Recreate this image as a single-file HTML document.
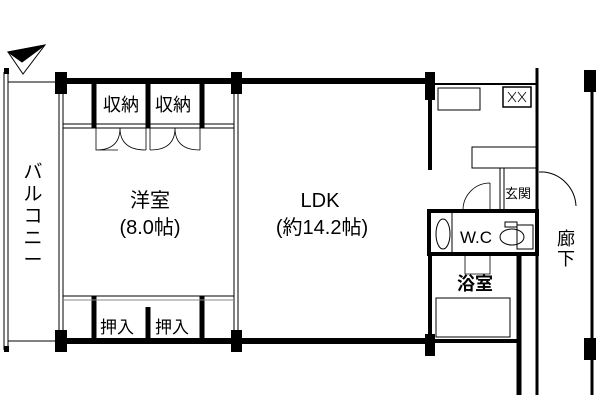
<!DOCTYPE html><html><head><style>body{margin:0;background:#fff}svg{display:block}text{font-family:"Liberation Sans","Noto Sans CJK JP",sans-serif;fill:#000}</style></head><body>
<svg width="600" height="400" viewBox="0 0 600 400" xmlns="http://www.w3.org/2000/svg">
<g fill="none" stroke="#000">
<path d="M8,52 L45,45 L23,74 Z" fill="#fff" stroke-width="1"/>
<path d="M8,52 L45,45 L22,62 Z" fill="#000"/>
<line x1="4" y1="72" x2="4" y2="350" stroke-width="1"/><line x1="8" y1="72" x2="8" y2="350" stroke-width="1"/>
<line x1="8" y1="82" x2="55" y2="82"/><line x1="8" y1="341" x2="55" y2="341"/>
<line x1="55" y1="81" x2="432" y2="81" stroke-width="6"/>
<line x1="55" y1="341" x2="432" y2="341" stroke-width="6"/>
<line x1="59" y1="94" x2="59" y2="330"/><line x1="63" y1="94" x2="63" y2="330"/>
<line x1="234" y1="94" x2="234" y2="330"/><line x1="238" y1="94" x2="238" y2="330"/>
<line x1="94" y1="84" x2="94" y2="128" stroke-width="5"/><line x1="148" y1="84" x2="148" y2="128" stroke-width="5"/><line x1="202" y1="84" x2="202" y2="128" stroke-width="5"/>
<line x1="63" y1="124" x2="234" y2="124"/><line x1="63" y1="128" x2="234" y2="128"/>
<path d="M96,128 V150 H118 M120,128 Q120,150 96,150 M146,128 V150 M120,128 Q120,150 146,150" stroke-width="0.8"/>
<path d="M150,128 V150 M175,128 Q175,150 150,150 M200,128 V150 M175,128 Q175,150 200,150" stroke-width="0.8"/>
<line x1="94" y1="296" x2="94" y2="340" stroke-width="5"/><line x1="148" y1="307" x2="148" y2="340" stroke-width="5"/><line x1="202" y1="296" x2="202" y2="340" stroke-width="5"/>
<line x1="63" y1="296" x2="234" y2="296"/><line x1="63" y1="300" x2="234" y2="300" stroke="#888"/>
<line x1="432" y1="84" x2="537" y2="84" stroke-width="2"/>
<line x1="430" y1="84" x2="430" y2="170" stroke-width="4"/>
<line x1="537" y1="68" x2="537" y2="395" stroke-width="3"/>
<rect x="438" y="88" width="42" height="22" stroke-width="1"/>
<rect x="503" y="87" width="28" height="20" stroke-width="1.5"/>
<path d="M508,92 l8,10 M516,92 l-8,10 M518,92 l8,10 M526,92 l-8,10" stroke-width="0.8"/>
<rect x="472" y="147" width="65" height="21" stroke-width="1"/>
<line x1="500" y1="168" x2="500" y2="210"/><line x1="504" y1="168" x2="504" y2="210"/>
<path d="M539,172 H544 A36,36 0 0 1 576,206" stroke-width="1"/>
<path d="M490,183 V210 H463 A27,27 0 0 1 490,183" stroke-width="0.8"/>
<rect x="429" y="211" width="108" height="43" stroke-width="4"/>
<ellipse cx="443" cy="234" rx="7" ry="15" stroke-width="1"/>
<line x1="452" y1="213" x2="452" y2="252"/>
<ellipse cx="512" cy="237" rx="12" ry="8" stroke-width="1"/>
<rect x="517" y="225" width="16" height="24" stroke-width="1"/>
<rect x="505" y="222" width="12" height="5" stroke-width="1"/>
<line x1="430" y1="254" x2="430" y2="345" stroke-width="4"/>
<line x1="519" y1="254" x2="519" y2="395" stroke-width="5"/>
<line x1="420" y1="341" x2="519" y2="341" stroke-width="4"/>
<rect x="436" y="298" width="74" height="39" stroke-width="1"/>
<path d="M465,256 V274 H490 V256" stroke-width="0.8"/>
<line x1="592" y1="70" x2="592" y2="395" stroke-width="3"/>
</g>
<g fill="#000">
<rect x="55" y="72" width="12" height="22"/><rect x="231" y="72" width="11" height="22"/><rect x="425" y="72" width="10" height="28"/>
<rect x="55" y="330" width="12" height="22"/><rect x="231" y="330" width="11" height="22"/><rect x="425" y="334" width="10" height="22"/>
<rect x="584" y="70" width="12" height="22"/><rect x="584" y="338" width="12" height="22"/>
<rect x="4" y="346" width="5" height="6"/><rect x="4" y="68" width="5" height="6"/>
</g>
<text x="121" y="111" font-size="18" text-anchor="middle">収納</text>
<text x="173" y="111" font-size="18" text-anchor="middle">収納</text>
<text x="117" y="333" font-size="17" text-anchor="middle">押入</text>
<text x="172" y="333" font-size="17" text-anchor="middle">押入</text>
<text x="150" y="207" font-size="20" text-anchor="middle">洋室</text>
<text x="150" y="234" font-size="20" text-anchor="middle">(8.0帖)</text>
<text x="320" y="207" font-size="20" text-anchor="middle">LDK</text>
<text x="322" y="234" font-size="20" text-anchor="middle">(約14.2帖)</text>
<text x="518" y="198" font-size="13" text-anchor="middle">玄関</text>
<text x="476" y="243" font-size="17" text-anchor="middle">W.C</text>
<text x="475" y="290" font-size="18" font-weight="bold" text-anchor="middle">浴室</text>
<text x="566" y="245" font-size="18" text-anchor="middle">廊</text>
<text x="566" y="265" font-size="18" text-anchor="middle">下</text>
<g font-size="19" text-anchor="middle">
<text x="33" y="178">バ</text><text x="33" y="200">ル</text><text x="33" y="222">コ</text><text x="33" y="244">ニ</text><text x="33" y="266">ー</text>
</g>
</svg></body></html>
